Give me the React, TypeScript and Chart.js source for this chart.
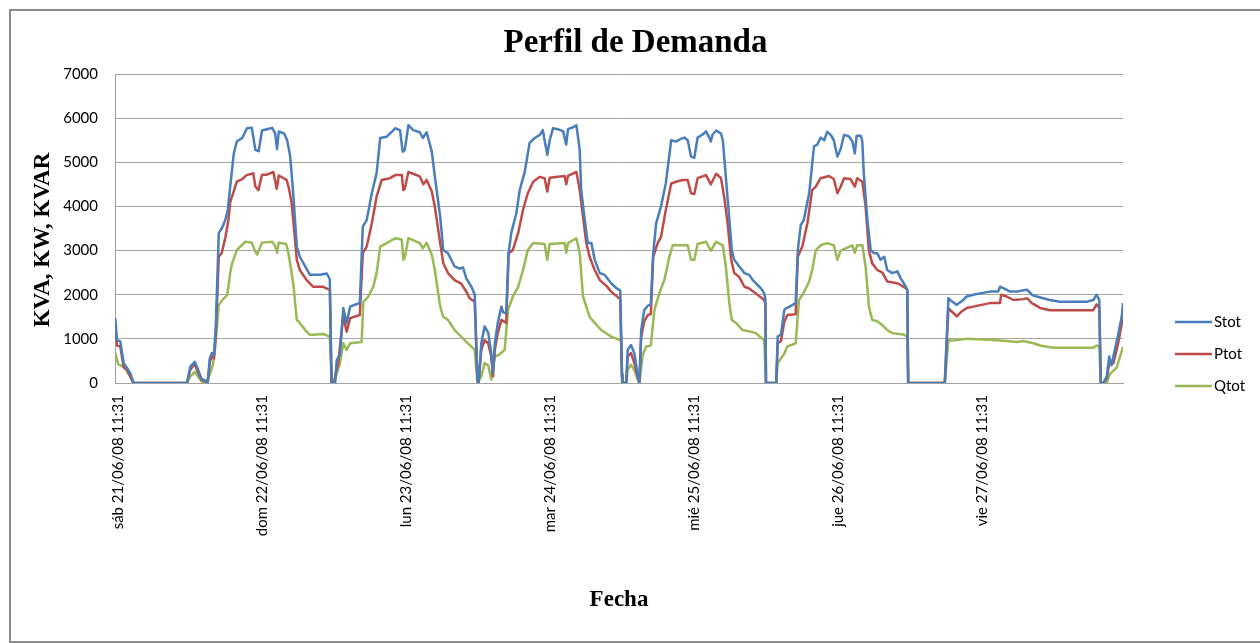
import React, { useEffect, useRef } from "react";
import { Chart, registerables } from "chart.js";

Chart.register(...registerables);

const dayLabels = [
  "sáb 21/06/08 11:31",
  "dom 22/06/08 11:31",
  "lun 23/06/08 11:31",
  "mar 24/06/08 11:31",
  "mié 25/06/08 11:31",
  "jue 26/06/08 11:31",
  "vie 27/06/08 11:31",
];
const dayTickHours = [0, 24, 48, 72, 96, 120, 144];
const yTickValues = [0, 1000, 2000, 3000, 4000, 5000, 6000, 7000];

const stotHours = [
  -0.45, -0.17, 0.38, 0.95, 1.5, 2.05, 2.6, 11.5, 12.05, 12.8, 13.3, 13.9, 14.55, 14.95, 15.3, 15.65, 16.0, 16.3, 16.8, 17.3,
  17.9, 18.3, 18.7, 19.3, 19.8, 20.7, 21.5, 22.3, 22.9, 23.45, 24.0, 24.8, 25.7, 26.2, 26.5, 26.8, 27.7, 28.2, 28.7, 29.2,
  29.8, 30.3, 31.2, 32.0, 33.7, 34.8, 35.3, 35.6, 36.2, 36.45, 37.0, 37.55, 38.1, 38.7, 39.2, 40.3, 40.8, 41.45, 42.3, 43.1,
  43.7, 44.8, 46.2, 47.0, 47.45, 47.8, 48.4, 49.2, 50.3, 50.8, 51.45, 52.3, 52.8, 53.7, 54.2, 55.0, 56.1, 56.95, 57.5, 58.05,
  58.9, 59.45, 59.9, 60.1, 60.55, 61.1, 61.7, 62.2, 62.5, 62.8, 63.3, 63.9, 64.2, 64.7, 65.1, 65.55, 66.4, 66.95, 67.8, 68.6,
  69.45, 70.3, 70.8, 71.1, 71.55, 71.95, 72.5, 73.3, 74.2, 74.7, 75.0, 75.8, 76.4, 76.95, 77.2, 77.8, 78.3, 78.9, 79.45, 80.3,
  81.1, 82.2, 83.05, 83.7, 84.0, 84.1, 84.7, 84.95, 85.5, 86.05, 86.6, 86.9, 87.2, 87.7, 88.3, 88.8, 89.2, 89.7, 90.5, 91.3,
  92.2, 93.0, 93.8, 94.4, 94.95, 95.5, 96.05, 96.6, 97.45, 98.0, 98.55, 98.8, 99.1, 99.7, 100.5, 100.8, 101.3, 101.9, 102.3, 102.7,
  103.55, 104.4, 105.2, 105.8, 106.3, 107.2, 107.7, 107.9, 108.0, 109.7, 109.95, 110.5, 111.05, 111.3, 111.8, 112.95, 113.3, 113.8, 114.3, 115.2,
  116.0, 116.55, 117.1, 117.7, 118.2, 118.8, 119.3, 119.9, 120.45, 121.0, 121.8, 122.4, 122.8, 123.1, 123.8, 124.05, 124.3, 124.9, 125.45, 126.0,
  126.55, 127.1, 127.7, 128.2, 129.05, 129.9, 130.45, 131.3, 131.55, 131.7, 137.8, 138.4, 138.95, 139.8, 140.6, 141.45, 142.55, 143.7, 145.3, 146.7,
  147.0, 147.55, 148.7, 149.8, 150.9, 151.55, 152.3, 153.1, 154.2, 155.3, 157.0, 159.2, 161.45, 162.55, 163.1, 163.55, 163.8, 164.2, 164.8, 165.2,
  165.6, 166.2, 166.7, 167.3, 167.5,
];
const stotValues = [
  1470, 970, 940, 450, 340, 220, 0, 0, 370, 480, 320, 100, 50, 0, 560, 680, 640, 1280, 3400, 3500,
  3700, 3920, 4450, 5200, 5470, 5550, 5770, 5780, 5280, 5250, 5720, 5750, 5780, 5650, 5300, 5700, 5650, 5500, 5130, 4300,
  3090, 2860, 2640, 2450, 2450, 2480, 2350, 0, 0, 520, 640, 1700, 1360, 1730, 1760, 1810, 3540, 3690, 4300, 4750,
  5550, 5580, 5770, 5730, 5240, 5280, 5840, 5730, 5680, 5550, 5680, 5240, 4680, 3770, 3010, 2940, 2640, 2590, 2620, 2370,
  2180, 2000, 100, 0, 900, 1280, 1140, 680, 220, 900, 1360, 1730, 1600, 1580, 2940, 3400, 3850, 4370, 4790, 5440,
  5550, 5620, 5730, 5500, 5170, 5500, 5770, 5750, 5700, 5400, 5750, 5790, 5840, 5280, 4370, 3690, 3170, 3170, 2790, 2490,
  2450, 2260, 2150, 2100, 200, 0, 0, 750, 860, 680, 200, 0, 1200, 1650, 1750, 1790, 2940, 3620, 4000, 4520,
  5500, 5470, 5530, 5560, 5500, 5130, 5100, 5560, 5630, 5700, 5560, 5470, 5630, 5720, 5650, 5500, 4680, 3690, 3010, 2790,
  2640, 2490, 2450, 2330, 2260, 2140, 2030, 1900, 0, 0, 1050, 1100, 1650, 1690, 1720, 1810, 3010, 3580, 3690, 4300,
  5360, 5400, 5560, 5500, 5690, 5620, 5500, 5130, 5300, 5620, 5590, 5470, 5200, 5600, 5600, 5470, 4750, 3690, 3010, 2940,
  2940, 2790, 2860, 2560, 2490, 2530, 2370, 2180, 2100, 0, 0, 1920, 1850, 1770, 1850, 1960, 2000, 2030, 2070, 2070,
  2180, 2150, 2070, 2070, 2100, 2110, 2000, 1960, 1920, 1880, 1840, 1840, 1840, 1880, 2000, 1880, 0, 0, 150, 600,
  400, 800, 1100, 1510, 1810,
];

const ptotHours = [
  -0.45, -0.17, 0.38, 0.95, 1.5, 2.05, 2.6, 11.5, 12.05, 12.8, 13.3, 13.9, 14.55, 14.95, 15.3, 15.65, 16.0, 16.3, 16.8, 17.3,
  17.9, 18.4, 18.7, 19.2, 19.8, 20.7, 21.45, 22.55, 22.9, 23.4, 24.0, 24.8, 25.9, 26.45, 26.8, 28.1, 28.5, 28.95, 29.4, 29.8,
  30.3, 31.45, 32.55, 34.2, 35.3, 35.6, 36.0, 36.3, 36.7, 37.55, 38.1, 38.7, 40.3, 40.8, 41.45, 42.3, 43.1, 43.95, 45.3, 46.2,
  47.3, 47.55, 47.8, 48.4, 50.3, 50.9, 51.45, 52.3, 52.8, 53.7, 54.2, 55.0, 56.1, 57.2, 58.05, 58.6, 59.45, 59.9, 60.1, 60.55,
  61.1, 61.7, 62.2, 62.5, 62.8, 63.3, 63.9, 64.7, 65.1, 65.8, 66.7, 67.5, 68.3, 69.2, 70.3, 71.1, 71.55, 71.95, 74.45, 74.7,
  75.0, 76.4, 76.95, 77.5, 78.05, 78.6, 79.45, 80.3, 81.4, 82.2, 83.7, 84.0, 84.1, 84.7, 84.95, 85.5, 86.05, 86.6, 86.9, 87.2,
  87.7, 88.3, 88.8, 89.2, 89.95, 90.5, 91.3, 92.2, 93.0, 94.1, 94.95, 95.5, 96.05, 96.6, 98.0, 98.8, 99.7, 100.5, 101.05, 101.6,
  102.2, 102.7, 103.55, 104.4, 105.2, 106.3, 107.7, 107.9, 108.0, 109.7, 109.95, 110.5, 111.05, 111.55, 112.95, 113.3, 114.05, 114.9, 115.7, 116.3,
  117.1, 118.5, 119.3, 119.9, 120.45, 121.0, 122.1, 122.8, 123.2, 124.05, 124.6, 125.15, 125.7, 126.55, 127.4, 128.2, 129.9, 131.3, 131.55, 131.7,
  137.8, 138.4, 138.95, 139.8, 140.6, 141.45, 142.55, 145.3, 147.0, 147.2, 148.1, 149.2, 150.9, 151.55, 152.3, 153.7, 155.3, 159.2, 162.55, 163.1,
  163.55, 163.8, 164.2, 164.8, 165.2, 165.9, 166.7, 167.5,
];
const ptotValues = [
  1200, 850, 830, 350, 300, 150, 0, 0, 300, 430, 250, 80, 30, 0, 480, 600, 560, 1100, 2860, 2950,
  3300, 3690, 4100, 4300, 4560, 4620, 4710, 4750, 4450, 4370, 4720, 4720, 4780, 4400, 4700, 4600, 4400, 4070, 3400, 2790,
  2560, 2330, 2180, 2180, 2110, 0, 0, 220, 450, 1540, 1160, 1470, 1540, 2940, 3090, 3620, 4220, 4600, 4640, 4710,
  4710, 4370, 4400, 4780, 4680, 4500, 4600, 4340, 4000, 3170, 2720, 2490, 2330, 2250, 2070, 1920, 1840, 100, 0, 750,
  970, 900, 600, 150, 750, 1130, 1430, 1360, 2940, 3010, 3400, 3920, 4300, 4560, 4670, 4640, 4340, 4650, 4690, 4500,
  4690, 4780, 4370, 3770, 3170, 2860, 2560, 2330, 2200, 2070, 1900, 150, 0, 0, 600, 680, 450, 150, 0, 1050,
  1390, 1540, 1560, 2860, 3170, 3310, 3920, 4520, 4560, 4600, 4600, 4300, 4280, 4640, 4710, 4500, 4740, 4640, 4200, 3620,
  2790, 2490, 2400, 2180, 2140, 2030, 1880, 1800, 0, 0, 900, 950, 1390, 1540, 1560, 2860, 3090, 3620, 4370, 4450,
  4640, 4690, 4620, 4300, 4450, 4640, 4620, 4450, 4640, 4560, 4000, 3010, 2710, 2560, 2500, 2300, 2260, 2150, 2100, 0,
  0, 1690, 1620, 1510, 1620, 1700, 1730, 1810, 1810, 2000, 1960, 1880, 1900, 1920, 1810, 1700, 1650, 1650, 1650, 1780,
  1700, 0, 0, 100, 450, 450, 900, 1500,
];

const qtotHours = [
  -0.45, 0.05, 1.15, 2.0, 2.55, 11.5, 12.05, 12.8, 13.3, 13.9, 14.55, 15.3, 15.8, 16.2, 16.8, 17.5, 18.2, 18.7, 19.0, 19.8,
  21.2, 22.3, 22.8, 23.2, 24.0, 25.7, 26.2, 26.5, 26.8, 28.0, 28.3, 28.7, 29.2, 29.8, 30.3, 31.2, 32.0, 34.2, 35.3, 35.6,
  35.9, 36.45, 37.0, 37.55, 38.1, 38.7, 40.6, 40.9, 41.7, 42.55, 43.1, 43.7, 44.8, 46.2, 47.3, 47.55, 47.8, 48.4, 50.3, 50.8,
  51.45, 52.3, 52.8, 53.7, 54.2, 55.0, 56.1, 57.2, 58.3, 59.45, 59.9, 60.55, 61.1, 61.7, 62.2, 62.8, 63.6, 64.45, 65.0, 65.8,
  66.7, 67.5, 68.3, 69.2, 71.1, 71.55, 71.95, 74.45, 74.7, 75.0, 76.4, 76.95, 77.5, 78.05, 78.6, 79.45, 80.55, 82.2, 83.7, 83.85,
  84.0, 84.7, 84.95, 85.5, 86.05, 86.6, 86.9, 87.45, 88.0, 88.8, 89.4, 90.2, 91.05, 91.9, 92.45, 94.95, 95.5, 96.05, 96.6, 98.0,
  98.8, 99.7, 100.8, 101.3, 101.9, 102.3, 103.0, 104.1, 105.2, 106.3, 107.7, 108.0, 109.7, 109.95, 110.5, 111.0, 111.55, 112.95, 113.5, 114.3,
  115.2, 115.7, 116.3, 117.1, 118.2, 119.3, 119.9, 120.45, 122.4, 122.8, 123.2, 124.05, 124.6, 125.15, 125.7, 126.55, 127.4, 128.2, 129.05, 130.9,
  131.55, 131.7, 137.8, 138.4, 138.95, 141.45, 145.3, 148.1, 149.8, 150.9, 152.55, 153.7, 155.9, 159.2, 162.55, 163.1, 163.55, 163.8, 164.8, 165.3,
  166.45, 167.5,
];
const qtotValues = [
  680, 420, 350, 150, 0, 0, 150, 250, 150, 40, 0, 200, 400, 800, 1770, 1900, 1990, 2490, 2700, 3010,
  3200, 3180, 3000, 2910, 3180, 3200, 3100, 2950, 3180, 3150, 3010, 2700, 2260, 1430, 1360, 1200, 1090, 1110, 1050, 0,
  0, 200, 450, 900, 750, 900, 930, 1840, 1950, 2180, 2490, 3090, 3170, 3280, 3250, 2790, 2850, 3280, 3170, 3050,
  3170, 2910, 2560, 1730, 1500, 1430, 1200, 1050, 900, 750, 0, 150, 450, 400, 80, 600, 650, 750, 1650, 1960,
  2180, 2560, 3010, 3170, 3150, 2790, 3150, 3170, 2950, 3170, 3280, 2950, 1960, 1730, 1500, 1360, 1200, 1050, 970, 950,
  0, 0, 300, 410, 300, 80, 0, 630, 820, 850, 1650, 2030, 2330, 2860, 3120, 3120, 2790, 2790, 3150, 3200,
  3000, 3200, 3120, 2640, 1800, 1430, 1360, 1200, 1170, 1130, 970, 0, 0, 450, 560, 650, 830, 900, 1880, 2050,
  2300, 2560, 3010, 3120, 3170, 3120, 2790, 3000, 3120, 2950, 3120, 3120, 2640, 1730, 1430, 1400, 1310, 1200, 1130, 1100,
  1050, 0, 0, 980, 960, 1000, 980, 950, 930, 950, 900, 850, 800, 800, 800, 850, 820, 0, 0, 200,
  350, 820,
];

const seriesNames = ["Stot", "Ptot", "Qtot"];
const seriesColors = ["#4a7ebb", "#be4b48", "#98b954"];

const toPoints = (hours: number[], values: number[]) => hours.map((h, i) => ({ x: h, y: values[i] }));

const sideLegend = {
  id: "sideLegend",
  afterDraw(chart: any) {
    const { ctx, chartArea } = chart;
    chart.data.datasets.forEach((ds: any, i: number) => {
      const y = chartArea.bottom - 61 + i * 32;
      ctx.save();
      ctx.strokeStyle = ds.borderColor;
      ctx.lineWidth = 2.5;
      ctx.beginPath();
      ctx.moveTo(chartArea.right + 52, y);
      ctx.lineTo(chartArea.right + 89, y);
      ctx.stroke();
      ctx.fillStyle = "#000";
      ctx.font = "15px Lato";
      ctx.textBaseline = "middle";
      ctx.textAlign = "left";
      ctx.fillText(ds.label, chartArea.right + 91, y);
      ctx.restore();
    });
  },
};

export default function App() {
  const canvasRef = useRef<HTMLCanvasElement | null>(null);

  useEffect(() => {
    if (!canvasRef.current) return;
    const allSeries = [
      toPoints(stotHours, stotValues),
      toPoints(ptotHours, ptotValues),
      toPoints(qtotHours, qtotValues),
    ];
    const chart = new Chart(canvasRef.current, {
      type: "line",
      data: {
        datasets: allSeries.map((pts, i) => ({
          label: seriesNames[i],
          data: pts,
          borderColor: seriesColors[i],
          backgroundColor: seriesColors[i],
          borderWidth: 2.5,
          pointRadius: 0,
          tension: 0,
          borderJoinStyle: "round" as const,
        })),
      },
      options: {
        animation: false,
        responsive: true,
        maintainAspectRatio: false,
        layout: { padding: 0 },
        plugins: {
          legend: { display: false },
          tooltip: { enabled: false },
          title: {
            display: true,
            text: "Perfil de Demanda",
            color: "#000",
            font: { family: "'Liberation Serif', 'Times New Roman', serif", size: 33, weight: "bold" },
            padding: { top: 13, bottom: 10.4 },
          },
        },
        scales: {
          x: {
            type: "linear",
            min: -0.5,
            max: 167.5,
            grid: { display: false, drawTicks: false },
            border: { display: true, color: "#a0a0a0", width: 1 },
            afterBuildTicks: (axis: any) => {
              axis.ticks = dayTickHours.map((v) => ({ value: v }));
            },
            afterFit: (scale: any) => {
              scale.height = 258;
            },
            ticks: {
              autoSkip: false,
              minRotation: 90,
              maxRotation: 90,
              padding: 12,
              color: "#000",
              font: { family: "Lato", size: 15 },
              callback: (v: any) => {
                const idx = dayTickHours.indexOf(Number(v));
                return idx >= 0 ? dayLabels[idx] : "";
              },
            },
            title: {
              display: true,
              text: "Fecha",
              color: "#000",
              font: { family: "'Liberation Serif', 'Times New Roman', serif", size: 23, weight: "bold" },
              padding: { top: 4, bottom: 27 },
            },
          },
          y: {
            min: 0,
            max: 7000,
            afterBuildTicks: (axis: any) => {
              axis.ticks = yTickValues.map((v) => ({ value: v }));
            },
            afterFit: (scale: any) => {
              scale.width = 104;
            },
            grid: { color: "#a6a6a6", lineWidth: 1, drawTicks: false },
            border: { display: true, color: "#a0a0a0", width: 1 },
            ticks: {
              padding: 17,
              color: "#000",
              font: { family: "Lato", size: 15 },
              callback: (v: any) => String(v),
            },
            title: {
              display: true,
              text: "KVA, KW, KVAR\u00a0\u00a0\u00a0\u00a0",
              color: "#000",
              font: { family: "'Liberation Serif', 'Times New Roman', serif", size: 23, weight: "bold" },
              padding: { top: 18, bottom: 4 },
            },
          },
          legendSpace: {
            type: "linear",
            position: "right",
            display: true,
            grid: { display: false, drawTicks: false },
            border: { display: false },
            ticks: { display: false },
            afterFit: (scale: any) => {
              scale.width = 137;
            },
          },
        },
      },
      plugins: [sideLegend],
    });
    return () => chart.destroy();
  }, []);

  return (
    <div
      style={{
        position: "absolute",
        left: 9,
        top: 9,
        width: 1249,
        height: 630,
        borderTop: "2px solid #8c8c8c",
        borderLeft: "2px solid #8c8c8c",
        borderBottom: "2px solid #8c8c8c",
        background: "#fff",
      }}
    >
      <div style={{ position: "relative", width: 1249, height: 630 }}>
        <canvas ref={canvasRef} />
      </div>
    </div>
  );
}
